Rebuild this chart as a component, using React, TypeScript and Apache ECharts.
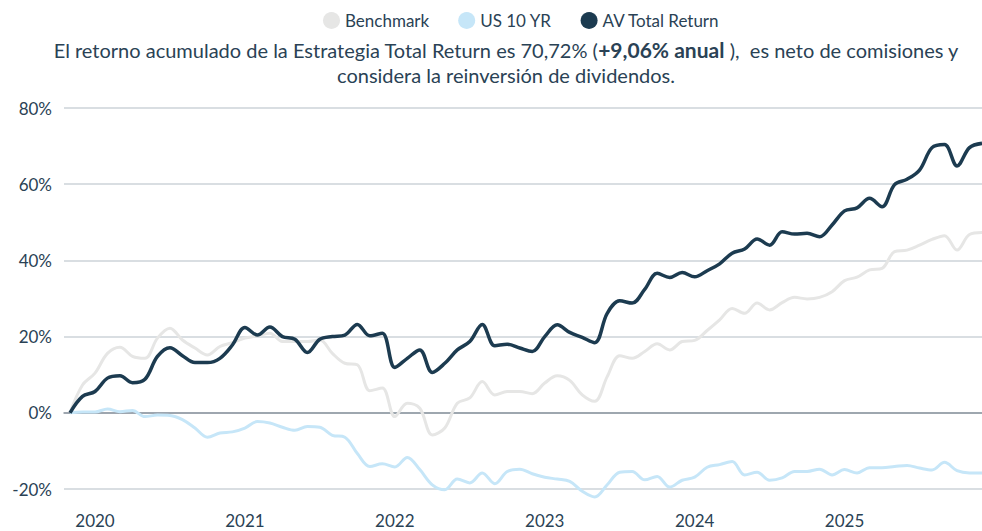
import React, { useEffect, useRef } from "react";
import * as echarts from "echarts";

const months: string[] = [];
for (let i = 0; i < 74; i++) {
  const y = 2019 + Math.floor((10 + i) / 12);
  const m = ((10 + i) % 12) + 1;
  months.push(`${y}-${m < 10 ? "0" + m : m}`);
}

const benchmark = [
  0, 7.3, 10.4, 15.6, 17.2, 14.8, 14.3, 19.6, 22.2, 19.1, 17.0, 15.2, 17.4, 18.4,
  19.6, 20.2, 20.9, 18.7, 18.7, 18.7, 19.1, 15.6, 13.0, 12.6, 5.8, 6.5, -1.0, 2.5,
  1.2, -5.8, -4.0, 2.5, 3.9, 8.2, 4.7, 5.6, 5.6, 5.0, 7.8, 9.7, 8.5, 4.7, 3.0, 9.5,
  15.0, 14.3, 16.1, 18.1, 16.5, 18.7, 19.0, 21.6, 24.4, 27.4, 26.1, 28.8, 27.0, 28.9,
  30.3, 29.9, 30.3, 31.8, 34.7, 35.6, 37.5, 37.9, 42.3, 42.7, 44.0, 45.5, 46.5, 42.7,
  46.8, 47.3,
];

const us10yr = [
  0, 0.2, 0.2, 1.0, 0.3, 0.6, -1.0, -0.6, -0.7, -1.8, -4.0, -6.4, -5.3, -5.0,
  -4.0, -2.3, -2.7, -3.8, -4.6, -3.6, -3.8, -5.9, -6.4, -10.7, -14.1, -13.4, -14.2, -11.7,
  -14.9, -18.9, -20.2, -17.4, -18.4, -15.8, -18.6, -15.4, -14.8, -16.0, -16.9, -17.4, -18.0, -20.6,
  -22.1, -18.9, -15.6, -15.4, -17.6, -16.7, -19.5, -17.7, -16.9, -14.3, -13.6, -12.8, -16.3, -15.6,
  -17.7, -17.1, -15.4, -15.4, -14.8, -16.3, -14.9, -15.8, -14.4, -14.4, -14.1, -13.8, -14.5, -15.0,
  -13.0, -15.2, -15.8, -15.8,
];

const avTotalReturn = [
  0, 4.3, 5.6, 9.1, 9.7, 7.9, 8.8, 14.8, 17.1, 15.0, 13.2, 13.2, 14.3, 17.8,
  22.4, 20.4, 22.5, 20.0, 19.3, 15.8, 19.3, 20.0, 20.4, 23.2, 20.2, 20.9, 11.9, 14.3,
  16.5, 10.6, 13.0, 16.5, 18.7, 23.2, 17.6, 18.0, 17.0, 16.1, 20.0, 23.1, 21.1, 19.8,
  18.4, 26.1, 29.4, 28.8, 32.4, 36.6, 35.5, 36.8, 35.7, 37.3, 39.1, 41.9, 43.0, 45.6,
  44.0, 47.5, 46.9, 47.1, 46.2, 49.3, 53.0, 53.8, 56.3, 54.1, 59.9, 61.3, 63.7, 69.6,
  70.4, 64.8, 69.6, 70.72,
];

const yTicks = { min: -20, max: 80, interval: 20 };

const seriesNames = ["Benchmark", "US 10 YR", "AV Total Return"];
const colors = ["#e6e6e5", "#c6e6f8", "#1c3b50"];

const textColor = "#2a4255";
const font = "Lato";

export default function App() {
  const ref = useRef<HTMLDivElement>(null);
  useEffect(() => {
    document.body.style.margin = "0";
    if (!ref.current) return;
    const chart = echarts.init(ref.current, undefined, { renderer: "svg" });
    const datasets = [benchmark, us10yr, avTotalReturn];
    chart.setOption({
      animation: false,
      textStyle: { fontFamily: font },
      title: {
        text:
          "El retorno acumulado de la Estrategia Total Return es 70,72% ({b|+9,06% anual} ),  es neto de comisiones y\nconsidera la reinversión de dividendos.",
        left: 501,
        top: 32,
        textAlign: "center",
        textStyle: {
          fontFamily: font,
          fontSize: 20,
          fontWeight: "normal",
          color: textColor,
          lineHeight: 25,
          align: "center",
          rich: {
            b: {
              fontFamily: font,
              fontSize: 21,
              fontWeight: "bold",
              color: textColor,
              lineHeight: 25,
            },
          },
        },
      },
      legend: {
        data: seriesNames,
        left: 318,
        top: 7,
        icon: "circle",
        itemWidth: 17,
        itemHeight: 17,
        itemGap: 29,
        textStyle: { fontFamily: font, fontSize: 17, color: textColor },
      },
      grid: [
        { left: 64, right: 0, top: 108, bottom: 42 },
        { left: 70, right: 0, top: 108, bottom: 42 },
      ],
      xAxis: [
        {
          type: "value",
          gridIndex: 0,
          min: 0,
          max: 1,
          axisLabel: { show: false },
          axisTick: { show: false },
          splitLine: { show: false },
          axisLine: { show: true, onZero: true, lineStyle: { color: "#8a949e", width: 1.5 } },
        },
        {
          type: "category",
          gridIndex: 1,
          data: months,
          boundaryGap: false,
          axisTick: { show: false },
          axisLine: { show: false },
          axisLabel: {
            interval: (index: number) => index % 12 === 2,
            formatter: (v: string) => v.slice(0, 4),
            color: textColor,
            fontFamily: font,
            fontSize: 17,
            margin: 23,
          },
          splitLine: { show: false },
        },
      ],
      yAxis: [
        {
          type: "value",
          gridIndex: 0,
          min: yTicks.min,
          max: yTicks.max,
          interval: yTicks.interval,
          axisLabel: {
            formatter: "{value}%",
            color: textColor,
            fontFamily: font,
            fontSize: 17,
            margin: 12,
          },
          axisLine: { show: false },
          axisTick: { show: false },
          splitLine: { lineStyle: { color: "#ccd3d9", width: 1.5 } },
        },
        {
          type: "value",
          gridIndex: 1,
          min: yTicks.min,
          max: yTicks.max,
          interval: yTicks.interval,
          axisLabel: { show: false },
          axisLine: { show: false },
          axisTick: { show: false },
          splitLine: { show: false },
        },
      ],
      series: datasets.map((d, k) => ({
        name: seriesNames[k],
        type: "line",
        xAxisIndex: 1,
        yAxisIndex: 1,
        data: d,
        smooth: 0.35,
        showSymbol: false,
        clip: false,
        color: colors[k],
        lineStyle: { color: colors[k], width: k === 2 ? 3.5 : 3 },
        z: k + 2,
      })),
    });
    return () => chart.dispose();
  }, []);
  return <div ref={ref} style={{ width: 982, height: 531 }} />;
}
